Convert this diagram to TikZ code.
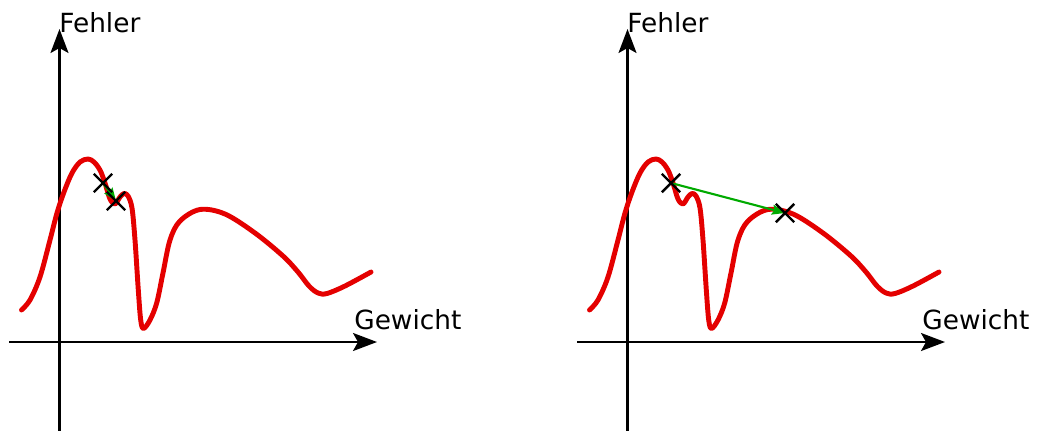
\documentclass[tikz,border=0pt]{standalone}
\usepackage{fontspec}
\setmainfont{DejaVu Sans}
\usetikzlibrary{arrows.meta,shapes.misc}
\definecolor{kurvenrot}{RGB}{228,0,0}
\definecolor{schrittgruen}{RGB}{0,170,0}

% Fehlerkurve in Pixelkoordinaten des linken Bildes
\newcommand{\fehlerkurve}{plot[smooth, tension=0.55] coordinates {
  (21.5,310) (30,300) (40,277) (50,240) (57,213) (64,192) (72,173) (80,162)
  (88,159) (94,162) (100,170) (105,183) (110,199) (115,204) (120,197)
  (124,193.5) (128,196) (132,208) (135,240) (138.3,290) (140.7,320)
  (143.5,328.5) (150,320) (156.7,303) (163,273) (170,240) (180,221)
  (200,209.5) (225,214) (255,233) (283,256) (298,272) (309,286)
  (318,293) (327,293.5) (345,286) (371,272)}}

\begin{document}
\begin{tikzpicture}[x=0.02cm, y=-0.02cm,
  achse/.style={line width=1.2pt, -{Stealth[length=0.48cm, width=0.36cm, inset=0.1cm]}},
  kurve/.style={kurvenrot, line width=2.8pt, line cap=round, line join=round},
  schritt/.style={schrittgruen, line width=1.2pt, -{Stealth[length=0.26cm, width=0.2cm, inset=0.04cm]}},
  kreuz/.style={cross out, draw=black, line width=1.4pt, minimum size=0.32cm, inner sep=0pt},
  beschriftung/.style={font=\fontsize{15}{18}\selectfont, inner sep=0pt, anchor=base west}]

\useasboundingbox (0,0) rectangle (1040,430);

% links: kleiner Schritt
\coordinate (lxa) at (9,342);
\coordinate (lxb) at (377,342);
\coordinate (lya) at (59.5,432);
\coordinate (lyb) at (59.5,29);
\draw[achse] (lxa) -- (lxb);
\draw[achse] (lya) -- (lyb);
\node[beschriftung] (lfehler) at (59,32) {Fehler};
\node[beschriftung] (lgewicht) at (354,329) {Gewicht};

\draw[kurve] \fehlerkurve;

\coordinate (l1) at (103,183);
\coordinate (l2) at (116,201);
\draw[schritt] (l1) -- (l2);
\node[kreuz] (l1x) at (l1) {};
\node[kreuz] (l2x) at (l2) {};

% rechts: grosser Schritt
\begin{scope}[shift={(568,0)}]
\coordinate (rxa) at (9,342);
\coordinate (rxb) at (377,342);
\coordinate (rya) at (59.5,432);
\coordinate (ryb) at (59.5,29);
\draw[achse] (rxa) -- (rxb);
\draw[achse] (rya) -- (ryb);
\node[beschriftung] (rfehler) at (59,32) {Fehler};
\node[beschriftung] (rgewicht) at (354,329) {Gewicht};

\draw[kurve] \fehlerkurve;

\coordinate (r1) at (103,183);
\coordinate (r2) at (217,213);
\draw[schritt] (r1) -- (r2);
\node[kreuz] (r1x) at (r1) {};
\node[kreuz] (r2x) at (r2) {};
\end{scope}

\end{tikzpicture}
\end{document}
